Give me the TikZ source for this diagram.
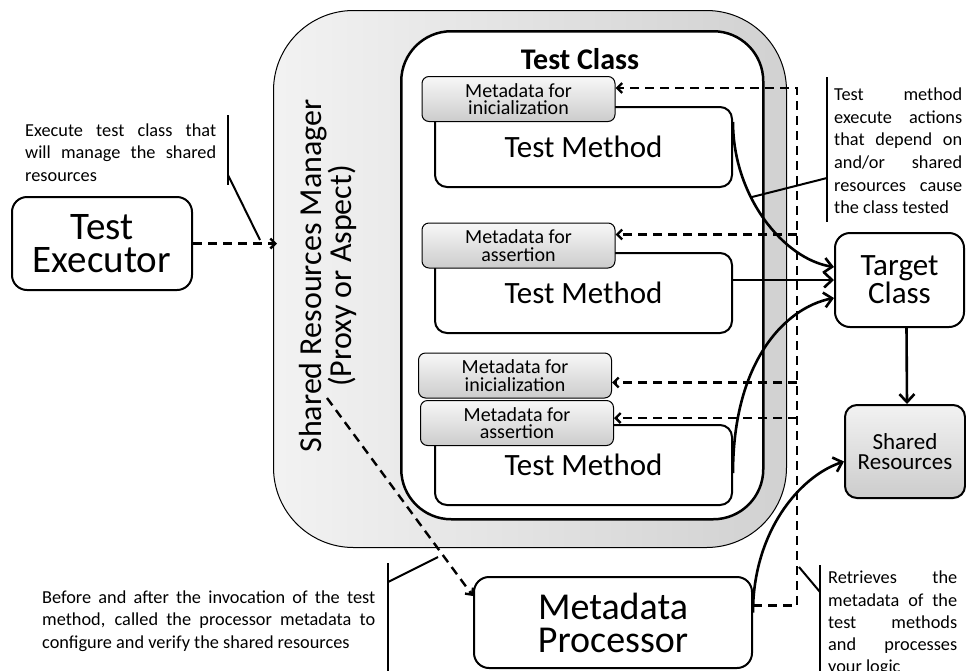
\documentclass[tikz,border=0pt]{standalone}
\usepackage{fontspec}
\setmainfont{Carlito}
\usetikzlibrary{arrows.meta}

\tikzset{
	box/.style={draw, line width=2pt, rounded corners=15pt, fill=white, align=center, inner sep=0pt},
	tmbox/.style={draw, line width=2pt, rounded corners=12pt, fill=white, minimum width=297pt, minimum height=80pt, inner sep=0pt, font=\fontsize{31}{33}\selectfont},
	metabox/.style={draw, line width=1pt, rounded corners=7pt, top color=gray!6, bottom color=gray!40, minimum width=193pt, minimum height=45pt, inner sep=0pt, align=center, font=\fontsize{20}{17.5}\selectfont},
	note/.style={anchor=north west, inner sep=0pt, align=left, font=\fontsize{18.3}{22.5}\selectfont},
	callout/.style={line width=2pt},
	arr/.style={line width=2.6pt, -{Straight Barb[length=8pt,width=15pt]}},
	dsh/.style={line width=2.4pt, dash pattern=on 9pt off 6pt, -{Straight Barb[length=5pt,width=10pt]}}
}
\newcommand{\jline}[2]{\makebox[#1][s]{#2}}

\begin{document}
\begin{tikzpicture}[x=1pt, y=-1pt]
	\useasboundingbox (0,0) rectangle (966,670);
	\clip (0,0) rectangle (966,670);

	% manager and test class
	\node[draw, line width=1pt, rounded corners=80pt, left color=gray!10, right color=gray!36, minimum width=513pt, minimum height=537pt, anchor=north west] (srm) at (273,10) {};
	\node[draw, line width=2.5pt, rounded corners=50pt, fill=white, minimum width=362pt, minimum height=488pt, anchor=north west] (tcl) at (400,30) {};
	\node[font=\bfseries\fontsize{30}{32}\selectfont] (tclname) at (580,59) {Test Class};
	\node[rotate=90, align=center, font=\fontsize{32}{27}\selectfont] (srmname) at (328,276) {Shared Resources Manager\\(Proxy or Aspect)};

	\node[tmbox] (tm1) at (583.5,147) {Test Method};
	\node[tmbox] (tm2) at (583.5,293) {Test Method};
	\node[tmbox] (tm3) at (583.5,465) {Test Method};

	\node[metabox] (meta1) at (518.5,99) {Metadata for\\inicialization};
	\node[metabox] (meta2) at (518.5,245.5) {Metadata for\\assertion};
	\node[metabox] (meta3) at (515,375.5) {Metadata for\\inicialization};
	\node[metabox] (meta4) at (517,423) {Metadata for\\assertion};

	\node[box, minimum width=180pt, minimum height=93pt, font=\fontsize{39}{33}\selectfont] (te) at (102,243.5) {Test\\Executor};
	\node[box, minimum width=129pt, minimum height=94pt, font=\fontsize{31}{25}\selectfont] (tc) at (899.5,280) {Target\\Class};
	\node[box, rounded corners=12pt, top color=gray!10, bottom color=gray!40, minimum width=120pt, minimum height=93pt, font=\fontsize{23}{19.5}\selectfont] (sr) at (905,451.5) {Shared\\Resources};
	\node[box, minimum width=278pt, minimum height=91pt, font=\fontsize{38}{33}\selectfont] (mp) at (613,622.5) {Metadata\\Processor};

	% dashed calls
	\draw[dsh] (te.east) -- ([xshift=4pt]te.east -| srm.west);
	\coordinate (mgr) at (327,398);
	\draw[dsh] (mgr) -- ([yshift=-20pt]mp.north west);
	\coordinate (bus) at (797,88);
	\draw[dsh] ([yshift=17pt]mp.east) -| (bus) -- ([yshift=11pt]meta1.east);
	\draw[dsh] ([yshift=11pt]meta2.east -| bus) -- ([yshift=11pt]meta2.east);
	\draw[dsh] ([yshift=-7pt]meta3.east -| bus) -- ([yshift=-7pt]meta3.east);
	\draw[dsh] ([yshift=5pt]meta4.east -| bus) -- ([yshift=5pt]meta4.east);

	% solid arrows
	\draw[arr] ([yshift=25pt]tm1.east) .. controls +(0,75) and +(-50,-8) .. ([yshift=13pt]tc.west);
	\draw[arr] (tm2.east |- tc.west) -- (tc.west);
	\draw[arr] ([yshift=-8pt]tm3.east) .. controls +(0,-110) and +(-50,10) .. ([yshift=-18pt]tc.west);
	\draw[arr] ([yshift=10pt]mp.east) .. controls +(0,-80) and +(-45,15) .. ([yshift=-10pt]sr.west);
	\draw[arr] ([xshift=7pt]tc.south) -- ([xshift=2pt]sr.north);

	% notes
	\draw[callout] (228,115) -- (228,185);
	\draw[callout] (228,175) -- (260,240);
	\draw[callout] (827,77) -- (827,222);
	\draw[callout] (827,178) -- (752,197);
	\draw[callout] (388,563) -- (388,680);
	\draw[callout] (388,582) -- (438,557);
	\draw[callout] (820,565) -- (820,680);
	\draw[callout] (820,592) -- (799,567);

	\node[note] (execnote) at (25,123.3) {\jline{191pt}{Execute test class that}\\\jline{191pt}{will manage the shared}\\resources};
	\node[note, font=\fontsize{18.3}{22.7}\selectfont] (methnote) at (834,87.5) {\jline{128pt}{Test method}\\\jline{128pt}{execute actions}\\\jline{128pt}{that depend on}\\\jline{128pt}{and/or shared}\\\jline{128pt}{resources cause}\\the class tested};
	\node[note, font=\fontsize{18.3}{22.3}\selectfont] (callnote) at (42,590.6) {\jline{333pt}{Before and after the invocation of the test}\\\jline{333pt}{method, called the processor metadata to}\\configure and verify the shared resources};
	\node[note, font=\fontsize{18.3}{22.3}\selectfont] (procnote) at (828,570.8) {\jline{129pt}{Retrieves the}\\\jline{129pt}{metadata of the}\\\jline{129pt}{test methods}\\\jline{129pt}{and processes}\\your logic};
\end{tikzpicture}
\end{document}
